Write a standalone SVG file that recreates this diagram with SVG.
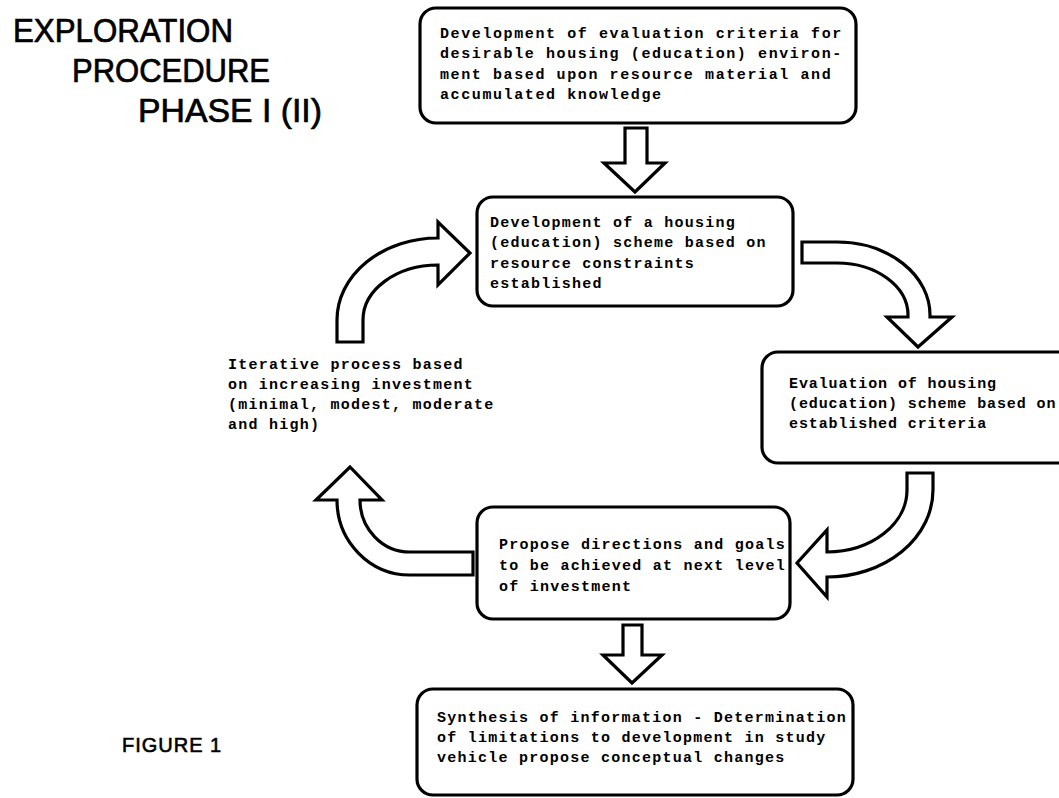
<svg xmlns="http://www.w3.org/2000/svg" width="1059" height="798" viewBox="0 0 1059 798">
<style>
.box{fill:#fff;stroke:#000;stroke-width:3.2}
.arr{fill:#fff;stroke:#000;stroke-width:3.2;stroke-linejoin:miter}
.t{font-family:"Liberation Mono","DejaVu Sans Mono",monospace;font-size:15px;font-weight:bold;letter-spacing:1.25px;fill:#000}
.w{letter-spacing:1.6px}
.n{letter-spacing:0.9px}
.title{font-family:"Liberation Sans","DejaVu Sans",sans-serif;font-size:33px;fill:#000;stroke:#000;stroke-width:0.7}
.fig{font-family:"Liberation Sans","DejaVu Sans",sans-serif;font-size:20px;fill:#000;stroke:#000;stroke-width:0.6;letter-spacing:1px}
</style>
<rect width="1059" height="798" fill="#fff"/>
<g id="title">
<text class="title" x="13" y="42" textLength="220" lengthAdjust="spacingAndGlyphs">EXPLORATION</text>
<text class="title" x="72" y="82" textLength="198" lengthAdjust="spacingAndGlyphs">PROCEDURE</text>
<text class="title" x="138" y="122" textLength="184" lengthAdjust="spacingAndGlyphs">PHASE I (II)</text>
</g>
<g id="figure-label">
<text class="fig" x="122" y="752">FIGURE 1</text>
</g>
<g id="connectors">
<path class="arr" d="M625,128 H647 V163 H665 L635,192 L604,163 H625 Z"/>
<path class="arr" d="M802,242 H837 A93,73 0 0 1 930,315 V317 H952 L918,347 L887,317 H908 V315 A71,52 0 0 0 837,263 H802 Z"/>
<path class="arr" d="M907,473 H933 V490 A106,87 0 0 1 827,577 V597 L797,563 L827,530 V552 A80,62 0 0 0 907,490 Z"/>
<path class="arr" d="M623,625 H642 V655 H662 L632,683 L603,655 H623 Z"/>
<path class="arr" d="M473,552 V575 H410 A73,75 0 0 1 337,500 H316 L350,467 L382,500 H360 A50,52 0 0 0 410,552 Z"/>
<path class="arr" d="M337,342 H363 V320 A75,55 0 0 1 438,265 V285 L470,253 L438,222 V238 A101,82 0 0 0 337,320 Z"/>
</g>
<g id="node-criteria">
<rect class="box" x="420" y="8" width="436" height="115" rx="16"/>
<text class="t w" x="440" y="38">Development of evaluation criteria for</text>
<text class="t w" x="440" y="58">desirable housing (education) environ-</text>
<text class="t w" x="440" y="79">ment based upon resource material and</text>
<text class="t w" x="440" y="99">accumulated knowledge</text>
</g>
<g id="node-scheme">
<rect class="box" x="477" y="197" width="316" height="109" rx="16"/>
<text class="t" x="490" y="227">Development of a housing</text>
<text class="t" x="490" y="247">(education) scheme based on</text>
<text class="t" x="490" y="268">resource constraints</text>
<text class="t" x="490" y="288">established</text>
</g>
<g id="node-evaluation">
<rect class="box" x="762" y="352" width="330" height="111" rx="16"/>
<text class="t n" x="789" y="388">Evaluation of housing</text>
<text class="t n" x="789" y="408">(education) scheme based on</text>
<text class="t n" x="789" y="428">established criteria</text>
</g>
<g id="node-iterative">
<text class="t" x="228" y="369">Iterative process based</text>
<text class="t" x="228" y="389">on increasing investment</text>
<text class="t" x="228" y="409">(minimal, modest, moderate</text>
<text class="t" x="228" y="429">and high)</text>
</g>
<g id="node-propose">
<rect class="box" x="477" y="507" width="313" height="112" rx="16"/>
<text class="t" x="499" y="549">Propose directions and goals</text>
<text class="t" x="499" y="570">to be achieved at next level</text>
<text class="t" x="499" y="591">of investment</text>
</g>
<g id="node-synthesis">
<rect class="box" x="417" y="689" width="436" height="106" rx="16"/>
<text class="t" x="437" y="722">Synthesis of information - Determination</text>
<text class="t" x="437" y="742">of limitations to development in study</text>
<text class="t" x="437" y="762">vehicle propose conceptual changes</text>
</g>
</svg>
